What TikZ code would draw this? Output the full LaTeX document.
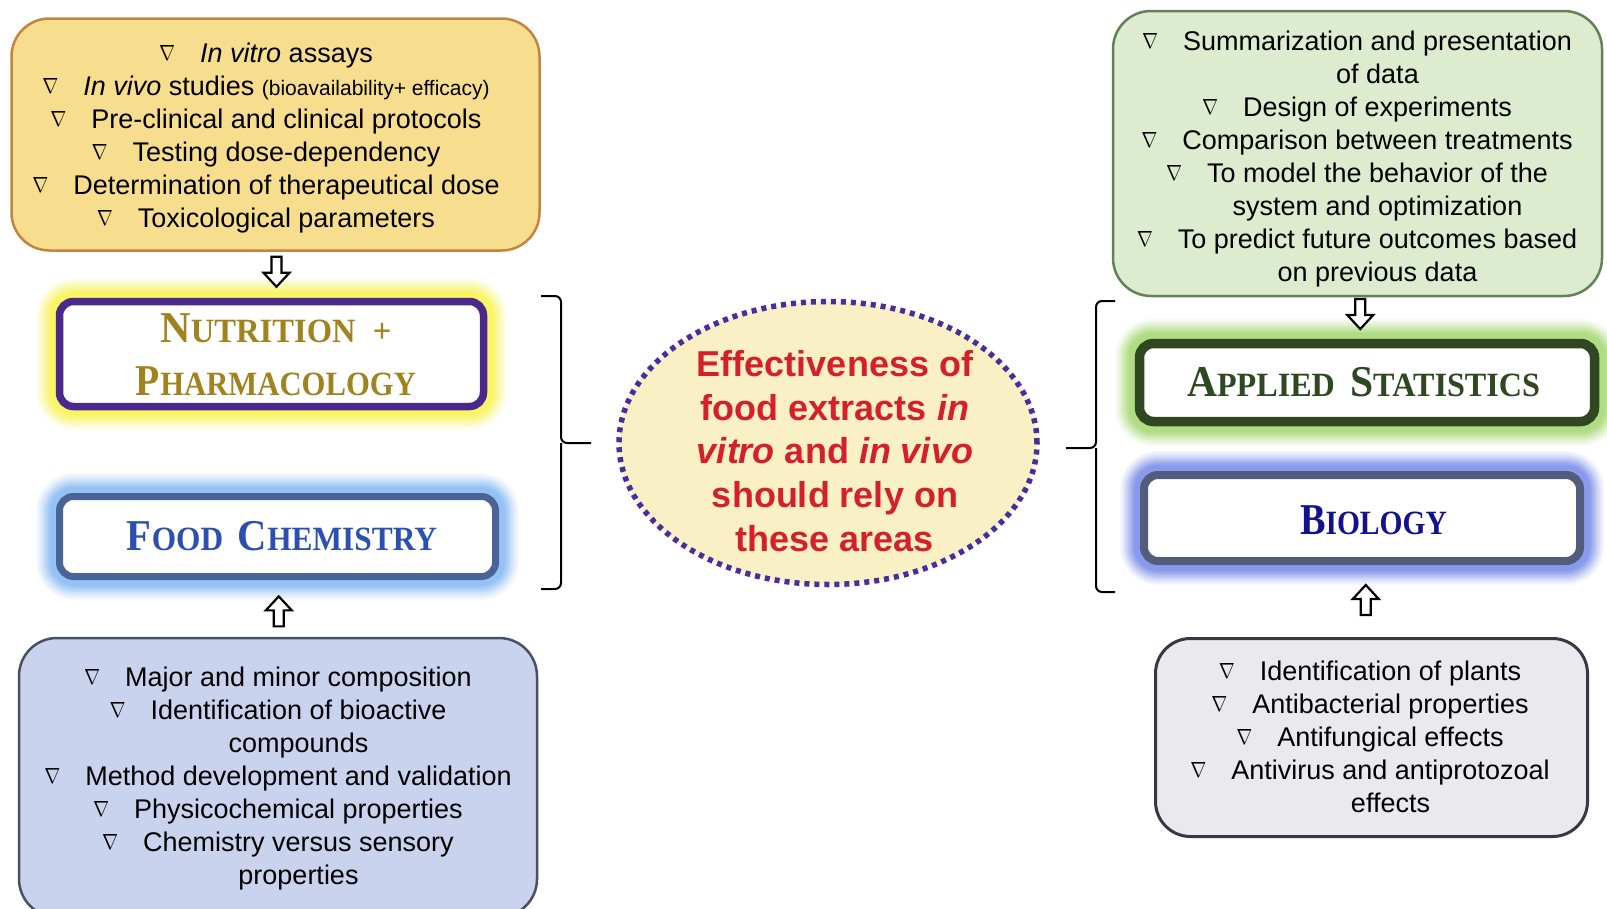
\documentclass[tikz,border=0pt]{standalone}
\usepackage{fontspec}
\setmainfont{Liberation Sans}
\newfontfamily\hdfont{Liberation Serif}
\usepackage{graphicx}
\usetikzlibrary{calc,backgrounds,shapes.geometric}

\definecolor{yelfill}{RGB}{247,222,142}
\definecolor{yeldraw}{RGB}{196,132,64}
\definecolor{grnfill}{RGB}{221,236,207}
\definecolor{grndraw}{RGB}{100,128,88}
\definecolor{blufill}{RGB}{202,211,238}
\definecolor{bludraw}{RGB}{72,80,100}
\definecolor{gryfill}{RGB}{234,234,238}
\definecolor{grydraw}{RGB}{55,55,70}
\definecolor{purp}{RGB}{75,40,140}
\definecolor{goldtxt}{RGB}{160,130,30}
\definecolor{fcdraw}{RGB}{74,100,152}
\definecolor{fctxt}{RGB}{44,80,176}
\definecolor{asdraw}{RGB}{48,72,34}
\definecolor{astxt}{RGB}{46,72,34}
\definecolor{biodraw}{RGB}{84,92,125}
\definecolor{biotxt}{RGB}{18,18,144}
\definecolor{ellfill}{RGB}{250,240,198}
\definecolor{elldraw}{RGB}{74,44,154}
\definecolor{elltxt}{RGB}{212,32,40}
\definecolor{glowY}{RGB}{250,245,90}
\definecolor{glowB}{RGB}{140,190,245}
\definecolor{glowG}{RGB}{170,218,120}
\definecolor{glowP}{RGB}{125,145,235}

\newcommand\bl{\makebox[16pt]{\raisebox{2pt}{\resizebox{16pt}{15pt}{$\nabla$}}}\hspace{25pt}}
\newcommand\cont{\hphantom{\bl}}
\newcommand\hsc[2]{{\fontsize{44}{44}\selectfont #1}{\fontsize{34}{34}\selectfont #2}}

\tikzset{
 body/.style={font=\fontsize{27}{33}\selectfont, align=center, inner sep=0pt},
 txtbox/.style={rounded corners=38pt, line width=2.5pt, inner sep=0pt},
 hbox/.style={rounded corners=14pt, fill=white, inner sep=0pt},
 hd/.style={font=\hdfont\bfseries\fontsize{44}{53}\selectfont, align=center, inner sep=0pt},
 blk/.style={draw=black, fill=white, line width=2.2pt, line join=miter},
 brk/.style={line width=2pt, rounded corners=6pt},
}

\begin{document}
\begin{tikzpicture}[x=1pt,y=-1pt]
\begin{pgfonlayer}{background}
\fill[white] (0,0) rectangle (1607,908);
\end{pgfonlayer}
\useasboundingbox (0,0) rectangle (1607,908);

% left column
\node[txtbox, draw=yeldraw, fill=yelfill, minimum width=528, minimum height=232] (yel) at (275.5,134.5) {};
\node[body] (yelt) at (266,138) {\bl\textit{In vitro} assays\\
\bl\textit{In vivo} studies {\fontsize{21}{33}\selectfont(bioavailability+ efficacy)}\\
\bl Pre-clinical and clinical protocols\\
\bl Testing dose-dependency\\
\bl Determination of therapeutical dose\\
\bl Toxicological parameters};

\node[hbox, draw=purp, line width=7.5pt, minimum width=424, minimum height=105] (np) at (271.5,354) {};
\node[hd, text=goldtxt] (npt) at (276,355) {\resizebox{231pt}{\height}{\hsc{N}{UTRITION}\hspace{18pt}\hsc{}{+}}\\
\resizebox{280pt}{\height}{\hsc{P}{HARMACOLOGY}}};

\node[hbox, draw=fcdraw, line width=7pt, minimum width=436, minimum height=80] (fc) at (277.5,536.5) {};
\node[hd, text=fctxt] (fct) at (282,536) {\resizebox{310pt}{\height}{\hsc{F}{OOD}\hspace{16pt}\hsc{C}{HEMISTRY}}};

\node[txtbox, draw=bludraw, fill=blufill, minimum width=518, minimum height=279] (blb) at (278,777.5) {};
\node[body] (blbt) at (278,778.5) {\bl Major and minor composition\\
\bl Identification of bioactive\\
\cont compounds\\
\bl Method development and validation\\
\bl Physicochemical properties\\
\bl Chemistry versus sensory\\
\cont properties};

% right column
\node[txtbox, draw=grndraw, fill=grnfill, minimum width=489, minimum height=285] (grn) at (1357.5,153.5) {};
\node[body] (grnt) at (1357,159.5) {\bl Summarization and presentation\\
\cont of data\\
\bl Design of experiments\\
\bl Comparison between treatments\\
\bl To model the behavior of the\\
\cont system and optimization\\
\bl To predict future outcomes based\\
\cont on previous data};

\node[hbox, draw=asdraw, line width=9.5pt, minimum width=455, minimum height=78] (as) at (1367,382.5) {};
\node[hd, text=astxt] (ast) at (1363.5,382) {\resizebox{353pt}{\height}{\hsc{A}{PPLIED}\hspace{16pt}\hsc{S}{TATISTICS}}};

\node[hbox, draw=biodraw, line width=8pt, minimum width=436, minimum height=86] (bio) at (1362,518) {};
\node[hd, text=biotxt] (biot) at (1373.5,520) {\resizebox{147pt}{\height}{\hsc{B}{IOLOGY}}};

\node[txtbox, draw=grydraw, line width=3pt, fill=gryfill, rounded corners=35pt, minimum width=432, minimum height=198] (gry) at (1371.5,737.5) {};
\node[body] (gryt) at (1370,737) {\bl Identification of plants\\
\bl Antibacterial properties\\
\bl Antifungical effects\\
\bl Antivirus and antiprotozoal\\
\cont effects};

% centre ellipse
\node[ellipse, draw=elldraw, fill=ellfill, line width=5.5pt, dash pattern=on 5pt off 5pt, minimum width=418, minimum height=283, inner sep=0pt] (ell) at (828,443) {};
\node[font=\fontsize{36}{43.7}\selectfont\bfseries, text=elltxt, align=center, inner sep=0pt] (ellt) at (835,451) {Effectiveness of\\food extracts \textit{in}\\\textit{vitro} and \textit{in vivo}\\should rely on\\these areas};

% glows
\begin{pgfonlayer}{background}
\foreach \w/\o in {40/0.08, 36/0.1, 32/0.13, 28/0.17, 24/0.22, 20/0.3, 16/0.4, 12/0.55} {
  \draw[glowY, line width=\w pt, opacity=\o, rounded corners=18pt] (np.south west) rectangle (np.north east);
  \draw[glowB, line width=\w pt, opacity=\o, rounded corners=18pt] (fc.south west) rectangle (fc.north east);
  \draw[glowG, line width=\w pt, opacity=\o, rounded corners=18pt] (as.south west) rectangle (as.north east);
  \draw[glowP, line width=\w pt, opacity=\o, rounded corners=18pt] (bio.south west) rectangle (bio.north east);
}
\end{pgfonlayer}

% block arrows
\coordinate (a1) at ($(yel.south)!0.5!(np.north)+(3,-3)$);
\coordinate (a2) at ($(fc.south)!0.5!(blb.north)+(1,3)$);
\coordinate (a3) at ($(grn.south)!0.5!(as.north)+(-2,-4)$);
\coordinate (a4) at ($(bio.south)!0.5!(gry.north)+(-1,-1)$);
\draw[blk, shift={(a1)}] (-5,-15) -- (5,-15) -- (5,1) -- (13,1) -- (0,15) -- (-13,1) -- (-5,1) -- cycle;
\draw[blk, shift={(a3)}] (-5,-15) -- (5,-15) -- (5,1) -- (13,1) -- (0,15) -- (-13,1) -- (-5,1) -- cycle;
\draw[blk, shift={(a2)}] (-5,15) -- (5,15) -- (5,-1) -- (13,-1) -- (0,-15) -- (-13,-1) -- (-5,-1) -- cycle;
\draw[blk, shift={(a4)}] (-5,15) -- (5,15) -- (5,-1) -- (13,-1) -- (0,-15) -- (-13,-1) -- (-5,-1) -- cycle;

% brackets
\coordinate (lbm) at (591,443);
\coordinate (rbm) at (1066,448);
\draw[brk] (541,296) -| (561,443) -- (lbm);
\draw[brk] (541,589) -| (561,443);
\draw[brk] (1115,301) -| (1096,448) -- (rbm);
\draw[brk] (1115,592) -| (1096,448);
\end{tikzpicture}
\end{document}
